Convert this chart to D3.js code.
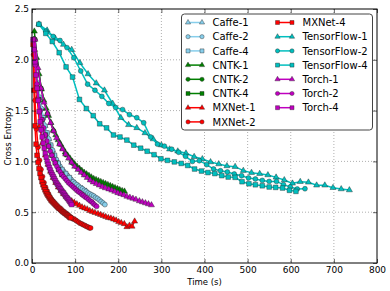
<!DOCTYPE html>
<html><head><meta charset="utf-8">
<script src="https://cdn.jsdelivr.net/npm/d3@7"></script>
<style>body{margin:0;background:#fff}svg{display:block}text{font-family:"DejaVu Sans",sans-serif}</style>
</head><body><svg id="c" width="390" height="291"></svg>
<script>
const xTicks = [0,100,200,300,400,500,600,700,800];
const yTicks = [0.0,0.5,1.0,1.5,2.0,2.5];
const seriesNames = ["Caffe-1","Caffe-2","Caffe-4","CNTK-1","CNTK-2","CNTK-4","MXNet-1","MXNet-2","MXNet-4","TensorFlow-1","TensorFlow-2","TensorFlow-4","Torch-1","Torch-2","Torch-4"];
const seriesColors = ["#87ceeb","#87ceeb","#87ceeb","#008000","#008000","#008000","#ff0000","#ff0000","#ff0000","#00bfbf","#00bfbf","#00bfbf","#bf00bf","#bf00bf","#bf00bf"];
const seriesMarkers = ["triangle","circle","square","triangle","circle","square","triangle","circle","square","triangle","circle","square","triangle","circle","square"];

const caffe1 = [[4.3,2.2],[13,1.77],[21.7,1.52],[30.3,1.35],[39,1.22],[47.7,1.11],[56.3,1.02],[65,0.95],[73.7,0.90],[82.3,0.86],[91,0.82],[99.7,0.785],[108.3,0.755],[117,0.73],[125.7,0.705]];
const caffe2 = [[4.3,2.2],[8.7,1.95],[13,1.77],[17.3,1.63],[21.7,1.52],[26,1.43],[30.3,1.35],[34.7,1.28],[39,1.22],[43.3,1.16],[47.7,1.11],[52,1.06],[56.3,1.02],[60.7,0.98],[65,0.95],[69.3,0.92],[73.7,0.90],[78,0.88],[82.3,0.86],[86.7,0.84],[91,0.82],[95.3,0.80],[99.7,0.785],[104,0.77],[108.3,0.755],[112.7,0.74],[117,0.73],[121.3,0.715],[125.7,0.705],[130,0.69],[134.3,0.68],[138.7,0.67],[143,0.66],[147.3,0.645],[151.7,0.635],[156,0.62],[160.3,0.605],[164.7,0.59],[169,0.575]];
const caffe4 = [[8.7,1.95],[17.3,1.63],[26,1.43],[34.7,1.28],[43.3,1.16],[52,1.06],[60.7,0.98],[69.3,0.92],[78,0.88],[86.7,0.84]];
const cntk1 = [[5.5,2.28],[11,2.02],[16.5,1.86],[22,1.71],[27.5,1.60],[33,1.52],[38.5,1.45],[44,1.38],[49.5,1.31],[55,1.26],[60.5,1.21],[66,1.17],[71.5,1.13],[77,1.09],[82.5,1.06],[88,1.03],[93.5,1.00],[99,0.975],[104.5,0.95],[110,0.93],[115.5,0.91],[121,0.89],[126.5,0.875],[132,0.86],[137.5,0.845],[143,0.83],[148.5,0.82],[154,0.81],[159.5,0.80],[165,0.79],[170.5,0.78],[176,0.77],[181.5,0.76],[187,0.75],[192.5,0.74],[198,0.73],[203.5,0.72],[209,0.71],[214.5,0.705]];
const cntk2 = [[7,2.2],[21,1.72],[36,1.47],[50,1.30],[64,1.17],[78,1.07],[92,0.99],[107,0.925],[121,0.87],[135,0.82]];
const cntk4 = [[7.7,1.95],[15.4,1.61],[23.1,1.41],[30.8,1.26],[38.5,1.15],[46.2,1.06],[53.9,0.985],[61.6,0.92],[69.3,0.87]];
const mxnet1 = [[6,2.1],[12,1.62],[18,1.35],[24,1.18],[31,1.06],[37,0.97],[43,0.90],[49,0.84],[55,0.79],[61,0.745],[67,0.71],[73,0.68],[79,0.655],[85,0.63],[92,0.61],[98,0.595],[104,0.58],[110,0.565],[116,0.55],[122,0.54],[128,0.53],[134,0.515],[140,0.505],[146,0.495],[153,0.485],[159,0.475],[165,0.465],[171,0.455],[177,0.445],[183,0.44],[189,0.43],[195,0.42],[201,0.405],[207,0.395],[214,0.385],[220,0.355],[226,0.37],[232,0.36],[238,0.41]];
const mxnet2 = [[3.5,2.05],[7,1.60],[10.5,1.32],[14,1.14],[17.5,1.01],[21,0.92],[24.5,0.85],[28,0.79],[31.5,0.745],[35,0.71],[38.5,0.68],[42,0.65],[45.5,0.625],[49,0.605],[52.5,0.585],[56,0.565],[59.5,0.55],[63,0.535],[66.5,0.52],[70,0.51],[73.5,0.50],[77,0.49],[80.5,0.475],[84,0.465],[87.5,0.455],[91,0.445],[94.5,0.435],[98,0.43],[101.5,0.42],[105,0.41],[108.5,0.40],[112,0.39],[115.5,0.385],[119,0.375],[122.5,0.37],[126,0.36],[129.5,0.355],[133,0.345],[136,0.345]];
const mxnet4 = [[2.3,2.15],[4.6,1.70],[6.9,1.35],[9.2,1.17],[11.5,1.06],[13.8,0.99],[16.1,0.93],[18.4,0.88],[20.7,0.84],[23,0.80],[25.3,0.77],[27.6,0.745],[29.9,0.72],[32.2,0.70],[34.5,0.68],[36.8,0.665],[39.1,0.65],[41.4,0.635],[43.7,0.62],[46,0.61],[48.3,0.60],[50.6,0.59],[52.9,0.58],[55.2,0.57],[57.5,0.56],[59.8,0.55],[62.1,0.54],[64.4,0.535],[66.7,0.525],[69,0.515],[71.3,0.505],[73.6,0.50],[75.9,0.49],[78.2,0.485],[80.5,0.475],[82.8,0.47],[85.1,0.46],[87.4,0.45],[89.7,0.445]];
const tf1 = [[16,2.35],[35,2.29],[54,2.21],[73,2.15],[92,2.10],[111,1.97],[130,1.86],[149,1.77],[168,1.70],[187,1.57],[206,1.43],[224,1.36],[243,1.33],[262,1.28],[281,1.22],[300,1.16],[319,1.12],[338,1.10],[357,1.08],[376,1.046],[395,1.024],[414,0.994],[433,0.974],[452,0.955],[471,0.948],[490,0.909],[509,0.889],[528,0.879],[547,0.866],[566,0.843],[585,0.817],[604,0.784],[622,0.80],[641,0.794],[660,0.765],[679,0.765],[698,0.741],[717,0.728],[736,0.718]];
const tf2 = [[16,2.35],[32,2.28],[49,2.23],[65,2.19],[81,2.12],[97,2.02],[113,1.89],[129,1.76],[146,1.70],[162,1.64],[178,1.57],[194,1.53],[210,1.51],[226,1.46],[243,1.43],[259,1.38],[275,1.24],[291,1.17],[307,1.15],[324,1.12],[340,1.09],[356,1.05],[372,1.00],[388,1.007],[405,0.968],[421,0.925],[437,0.908],[453,0.896],[469,0.876],[486,0.859],[502,0.837],[518,0.827],[534,0.813],[550,0.803],[567,0.803],[583,0.771],[599,0.748],[615,0.728],[633,0.731]];
const tf4 = [[16,2.35],[32,2.26],[47,2.18],[63,2.07],[79,1.93],[94,1.83],[110,1.61],[126,1.52],[142,1.45],[157,1.37],[173,1.33],[189,1.26],[204,1.24],[220,1.21],[236,1.16],[252,1.13],[267,1.10],[283,1.066],[299,1.026],[314,1.01],[330,0.995],[346,0.98],[361,0.96],[377,0.925],[393,0.905],[408,0.89],[424,0.88],[440,0.86],[455,0.846],[471,0.843],[487,0.80],[503,0.78],[518,0.77],[534,0.76],[550,0.748],[565,0.744],[581,0.738],[597,0.715],[612,0.705]];
const torch1 = [[7,2.20],[14,1.92],[21,1.72],[28,1.58],[36,1.47],[43,1.38],[50,1.30],[57,1.23],[64,1.17],[71,1.12],[78,1.07],[85,1.03],[92,0.99],[99,0.95],[107,0.92],[114,0.89],[121,0.865],[128,0.84],[135,0.815],[142,0.795],[149,0.78],[156,0.765],[163,0.75],[170,0.738],[178,0.727],[185,0.715],[192,0.703],[199,0.69],[206,0.68],[213,0.67],[220,0.655],[227,0.645],[234,0.635],[241,0.625],[249,0.61],[256,0.60],[263,0.59],[270,0.58],[277,0.57]];
const torch2 = [[3.8,2.2],[7.7,1.95],[11.5,1.76],[15.4,1.61],[19.2,1.50],[23.1,1.41],[26.9,1.33],[30.8,1.26],[34.6,1.20],[38.5,1.15],[42.3,1.10],[46.2,1.06],[50,1.02],[53.9,0.985],[57.7,0.95],[61.6,0.92],[65.4,0.895],[69.3,0.87],[73.1,0.85],[77,0.83],[80.8,0.81],[84.7,0.79],[88.5,0.775],[92.4,0.76],[96.2,0.745],[100,0.73],[104,0.715],[108,0.70],[112,0.69],[115.5,0.675],[119,0.665],[123,0.65],[127,0.64],[131,0.625],[135,0.61],[139,0.60],[142,0.585],[146,0.57],[150,0.557]];
const torch4 = [[2.4,2.20],[4.7,2.10],[7.1,1.98],[9.4,1.85],[11.8,1.72],[14.2,1.60],[16.5,1.49],[18.9,1.39],[21.2,1.31],[23.6,1.24],[26,1.18],[28.3,1.13],[30.7,1.08],[33,1.04],[35.4,1.00],[37.8,0.97],[40.1,0.94],[42.5,0.915],[44.8,0.89],[47.2,0.87],[49.6,0.85],[51.9,0.83],[54.3,0.81],[56.6,0.79],[59,0.775],[61.4,0.76],[63.7,0.745],[66.1,0.73],[68.4,0.715],[70.8,0.70],[73.2,0.69],[75.5,0.675],[77.9,0.66],[80.2,0.645],[82.6,0.635],[85,0.62],[87.3,0.605],[89.7,0.59],[92,0.575]];
const seriesData = [caffe1,caffe2,caffe4,cntk1,cntk2,cntk4,mxnet1,mxnet2,mxnet4,tf1,tf2,tf4,torch1,torch2,torch4];

const svg = d3.select("#c");
const L=32,R=377,T=9,B=263;
const x = d3.scaleLinear().domain([0,800]).range([L,R]);
const y = d3.scaleLinear().domain([0,2.5]).range([B,T]);

// grid
const g = svg.append("g");
g.selectAll("line.gx").data(xTicks.slice(1,-1)).join("line")
  .attr("x1",d=>x(d)).attr("x2",d=>x(d)).attr("y1",T).attr("y2",B)
  .attr("stroke","#9a9a9a").attr("stroke-width",0.8).attr("stroke-dasharray","1,2");
g.selectAll("line.gy").data(yTicks.slice(1,-1)).join("line")
  .attr("y1",d=>y(d)).attr("y2",d=>y(d)).attr("x1",L).attr("x2",R)
  .attr("stroke","#9a9a9a").attr("stroke-width",0.8).attr("stroke-dasharray","1,2");

const symMap = {triangle:d3.symbolTriangle,circle:d3.symbolCircle,square:d3.symbolSquare};
const symSize = {triangle:16,circle:19,square:22};
const legSize = {triangle:12,circle:14,square:16};
const plot = svg.append("g");
const line = d3.line().x(d=>x(d[0])).y(d=>y(d[1]));
seriesData.forEach((data,i)=>{
  const sg = plot.append("g");
  sg.append("path").attr("d",line(data)).attr("fill","none")
    .attr("stroke",seriesColors[i]).attr("stroke-width",1.5);
  const sym = d3.symbol().type(symMap[seriesMarkers[i]]).size(symSize[seriesMarkers[i]]);
  sg.selectAll("path.m").data(data).join("path").attr("class","m")
    .attr("transform",d=>`translate(${x(d[0])},${y(d[1])})`)
    .attr("d",sym()).attr("fill",seriesColors[i]).attr("stroke","#222").attr("stroke-width",0.4);
});

// axes
const ax = svg.append("g").attr("transform",`translate(0,${B})`)
  .call(d3.axisBottom(x).tickValues(xTicks).tickSizeInner(-4).tickSizeOuter(0).tickPadding(4).tickFormat(d3.format("d")));
const ay = svg.append("g").attr("transform",`translate(${L},0)`)
  .call(d3.axisLeft(y).tickValues(yTicks).tickSizeInner(-4).tickSizeOuter(0).tickPadding(3).tickFormat(d3.format(".1f")));
const axT = svg.append("g").attr("transform",`translate(0,${T})`)
  .call(d3.axisTop(x).tickValues(xTicks).tickSizeInner(-4).tickSizeOuter(0).tickFormat(""));
const ayR = svg.append("g").attr("transform",`translate(${R},0)`)
  .call(d3.axisRight(y).tickValues(yTicks).tickSizeInner(-4).tickSizeOuter(0).tickFormat(""));
[ax,ay,axT,ayR].forEach(a=>{a.select(".domain").remove();a.selectAll("line").attr("stroke","#000").attr("stroke-width",0.6);
  a.selectAll("text").attr("font-size",9).attr("fill","#000").attr("font-family","DejaVu Sans");});
svg.append("rect").attr("x",L).attr("y",T).attr("width",R-L).attr("height",B-T)
  .attr("fill","none").attr("stroke","#000").attr("stroke-width",1);

svg.append("text").attr("x",(L+R)/2).attr("y",285).attr("text-anchor","middle").attr("font-size",8.5).text("Time (s)");
svg.append("text").attr("transform",`translate(11,${(T+B)/2}) rotate(-90)`).attr("text-anchor","middle").attr("font-size",8.5).text("Cross Entropy");

// legend
const lg = svg.append("g");
lg.append("rect").attr("x",181.5).attr("y",14).attr("width",191).attr("height",116).attr("rx",3)
  .attr("fill","#fff").attr("stroke","#444").attr("stroke-width",1);
seriesNames.forEach((n,i)=>{
  const col = i<8?0:1, row = i<8?i:i-8;
  const x1 = col===0?188:277.5, x2 = col===0?202:292, tx = col===0?212.5:302.5;
  const cy = 22.5 + row*14.2;
  lg.append("line").attr("x1",x1).attr("x2",x2).attr("y1",cy).attr("y2",cy).attr("stroke",seriesColors[i]).attr("stroke-width",1.5);
  const sym = d3.symbol().type(symMap[seriesMarkers[i]]).size(legSize[seriesMarkers[i]]);
  [x1,x2].forEach(xx=>lg.append("path").attr("d",sym()).attr("transform",`translate(${xx},${cy})`)
    .attr("fill",seriesColors[i]).attr("stroke","#222").attr("stroke-width",0.4));
  lg.append("text").attr("x",tx).attr("y",cy+3.6).attr("font-size",10).text(n);
});
</script></body></html>
